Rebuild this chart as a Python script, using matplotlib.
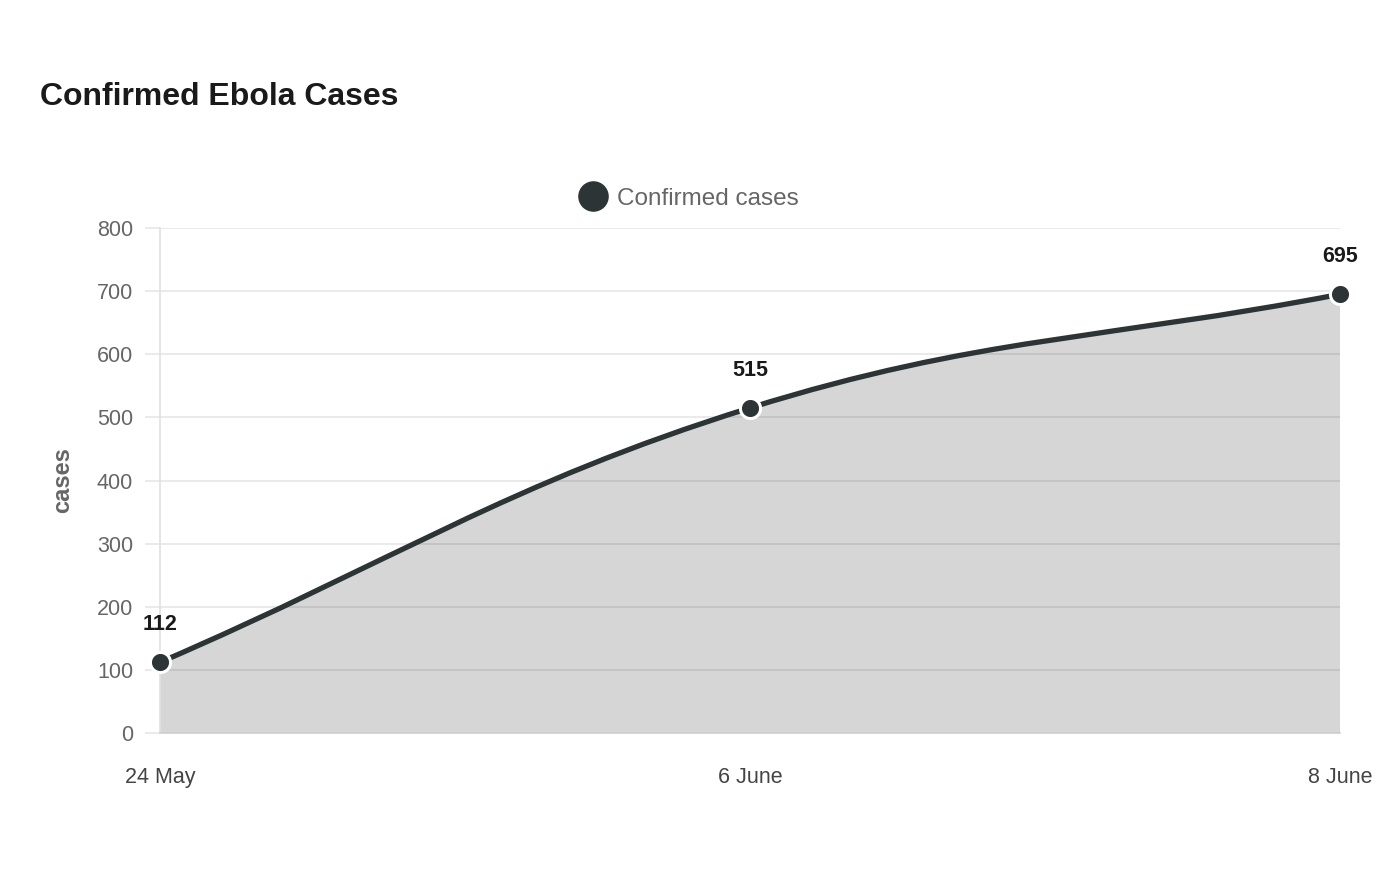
import numpy as np
import matplotlib
matplotlib.use("Agg")
import matplotlib.pyplot as plt
from matplotlib.path import Path
from matplotlib.patches import PathPatch
from matplotlib.lines import Line2D

plt.rcParams['font.family'] = ['Liberation Sans', 'DejaVu Sans']

dates = ["24 May", "6 June", "8 June"]
cases = [112, 515, 695]
y_ticks = [0, 100, 200, 300, 400, 500, 600, 700, 800]

W, H = 1400, 880
LINE = "#2d3436"

fig = plt.figure(figsize=(W / 100, H / 100), dpi=100)
ax = fig.add_axes([160 / W, 1 - 733 / H, 1180 / W, 505 / H])

x = np.arange(len(dates))
ax.set_xlim(0, len(dates) - 1)
ax.set_ylim(0, 800)


def spline_path(xs, ys, tension, sx, sy, close_to=None):
    # chart.js style bezier control points, distances measured in pixels
    pts = np.column_stack([xs, ys]).astype(float)
    n = len(pts)
    cps = []
    for i in range(n):
        prev = pts[max(i - 1, 0)]
        cur = pts[i]
        nxt = pts[min(i + 1, n - 1)]
        d01 = np.hypot((cur[0] - prev[0]) * sx, (cur[1] - prev[1]) * sy)
        d12 = np.hypot((nxt[0] - cur[0]) * sx, (nxt[1] - cur[1]) * sy)
        tot = d01 + d12
        s01 = d01 / tot if tot else 0
        s12 = d12 / tot if tot else 0
        c1 = cur - tension * s01 * (nxt - prev)
        c2 = cur + tension * s12 * (nxt - prev)
        cps.append((c1, c2))
    verts = [pts[0]]
    codes = [Path.MOVETO]
    for i in range(n - 1):
        verts += [cps[i][1], cps[i + 1][0], pts[i + 1]]
        codes += [Path.CURVE4] * 3
    if close_to is not None:
        verts += [(pts[-1][0], close_to), (pts[0][0], close_to), pts[0]]
        codes += [Path.LINETO, Path.LINETO, Path.CLOSEPOLY]
    return Path(verts, codes)


sx = 1180 / (len(dates) - 1)
sy = 505 / 800

fill = PathPatch(spline_path(x, cases, 0.4, sx, sy, close_to=0),
                 facecolor=(0, 0, 0, 0.16), edgecolor='none', zorder=2)
ax.add_patch(fill)
line = PathPatch(spline_path(x, cases, 0.4, sx, sy),
                 facecolor='none', edgecolor=LINE, lw=3.8, zorder=3,
                 capstyle='round', joinstyle='round')
ax.add_patch(line)

ax.scatter(x, cases, s=210, color=LINE, edgecolor='white', linewidth=2.2,
           zorder=4, clip_on=False)

for xi, v in zip(x, cases):
    ax.annotate(str(v), (xi, v), xytext=(0, 19.5), textcoords='offset points',
                ha='center', va='bottom', fontsize=15.5, fontweight='bold',
                color='#1a1a1a')

# grid / axes
ax.set_yticks(y_ticks)
ax.set_yticklabels([str(t) for t in y_ticks])
ax.set_xticks(x)
ax.set_xticklabels(dates)
ax.grid(axis='y', color='#e6e6e6', lw=1.2, zorder=0)
ax.set_axisbelow(True)
for s in ['top', 'right']:
    ax.spines[s].set_visible(False)
ax.spines['left'].set_color('#e0e0e0')
ax.spines['left'].set_linewidth(1.2)
ax.spines['bottom'].set_color('#d0d0d0')
ax.spines['bottom'].set_linewidth(1.2)
ax.tick_params(axis='y', length=10.8, width=1.2, color='#e6e6e6',
               labelsize=15.5, labelcolor='#666666', pad=8.6)
ax.tick_params(axis='x', length=0, labelsize=15.5, labelcolor='#444444',
               pad=24.5)
ax.set_ylabel("cases", fontsize=17, fontweight='bold', color='#666666',
              labelpad=16)

fig.text(40 / W, 1 - 97 / H, "Confirmed Ebola Cases", fontsize=23,
         fontweight='bold', color='#1a1a1a', va='center', ha='left')

handle = Line2D([], [], ls='none', marker='o', markersize=21,
                markerfacecolor=LINE, markeredgecolor=LINE)
fig.legend([handle], ["Confirmed cases"], loc='center',
           bbox_to_anchor=(690 / W, 1 - 199 / H), frameon=False,
           fontsize=17.5, labelcolor='#666666', handlelength=1.0,
           handletextpad=0.5)

fig.savefig("out.png", dpi=100, facecolor='white')
